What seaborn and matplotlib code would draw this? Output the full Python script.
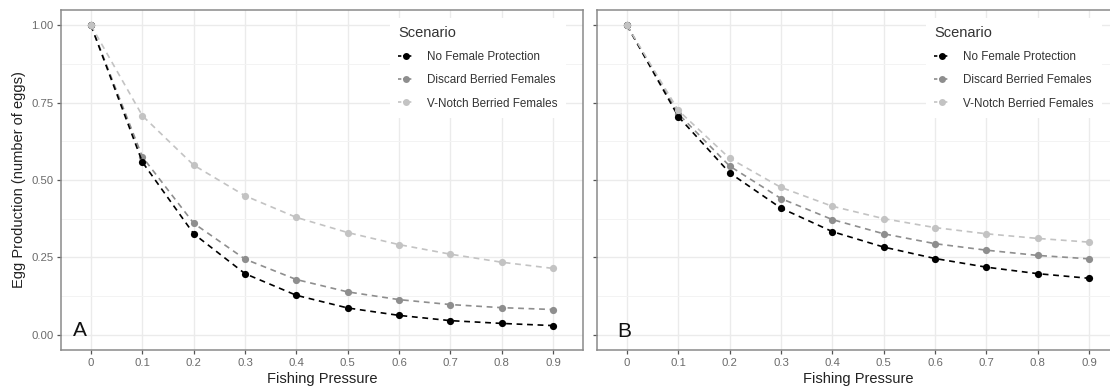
import matplotlib
matplotlib.use("Agg")
import matplotlib.pyplot as plt
import seaborn as sns
import pandas as pd
from matplotlib.lines import Line2D

# ---------------- data ----------------
pressure = [0.0, 0.1, 0.2, 0.3, 0.4, 0.5, 0.6, 0.7, 0.8, 0.9]
tick_labels = ["0", "0.1", "0.2", "0.3", "0.4", "0.5", "0.6", "0.7", "0.8", "0.9"]
scenarios = ["No Female Protection", "Discard Berried Females", "V-Notch Berried Females"]
panels = ["A", "B"]

a_no_protection = [1.00, 0.558, 0.326, 0.197, 0.127, 0.086, 0.062, 0.045, 0.036, 0.029]
a_discard       = [1.00, 0.575, 0.360, 0.244, 0.178, 0.138, 0.113, 0.097, 0.087, 0.081]
a_vnotch        = [1.00, 0.708, 0.548, 0.449, 0.379, 0.330, 0.291, 0.260, 0.234, 0.214]

b_no_protection = [1.00, 0.705, 0.523, 0.409, 0.333, 0.283, 0.246, 0.218, 0.197, 0.182]
b_discard       = [1.00, 0.714, 0.545, 0.440, 0.372, 0.326, 0.294, 0.273, 0.256, 0.245]
b_vnotch        = [1.00, 0.725, 0.570, 0.476, 0.415, 0.375, 0.346, 0.326, 0.311, 0.299]

panel_series = {
    "A": [a_no_protection, a_discard, a_vnotch],
    "B": [b_no_protection, b_discard, b_vnotch],
}

colors = {"No Female Protection": "#000000",
          "Discard Berried Females": "#8e8e8e",
          "V-Notch Berried Females": "#c3c3c3"}
zorders = {"No Female Protection": 4, "Discard Berried Females": 3,
           "V-Notch Berried Females": 5}

rows = []
for p in panels:
    for s, vals in zip(scenarios, panel_series[p]):
        for x, v in zip(pressure, vals):
            rows.append({"panel": p, "scenario": s, "pressure": x, "eggs": v})
df = pd.DataFrame(rows)

# ---------------- style ----------------
sns.set_theme(style="white")
plt.rcParams["font.family"] = ["Liberation Sans", "DejaVu Sans"]

W, H = 1110, 388
fig = plt.figure(figsize=(W / 100, H / 100), dpi=100)
axA = fig.add_axes([61 / W, 38 / H, 522 / W, 340 / H])
axB = fig.add_axes([597 / W, 38 / H, 522 / W, 340 / H])

label_pos = {"A": (-0.021, 0.013), "B": (-0.005, 0.010)}

for ax, p in zip([axA, axB], panels):
    sub = df[df["panel"] == p]
    for s in scenarios:
        d = sub[sub["scenario"] == s]
        sns.lineplot(data=d, x="pressure", y="eggs", ax=ax, color=colors[s],
                     linestyle=(0, (3.5, 2.8)), linewidth=1.2, marker="o",
                     markersize=5.2, markeredgewidth=0, zorder=zorders[s],
                     legend=False)
    ax.set_xlim(-0.0585, 0.9585)
    ax.set_ylim(-0.05, 1.05)
    ax.set_xticks(pressure)
    ax.set_xticklabels(tick_labels)
    ax.set_yticks([0, 0.25, 0.5, 0.75, 1.0])
    ax.set_yticks([0.125, 0.375, 0.625, 0.875], minor=True)
    ax.grid(which="major", color="#EBEBEB", linewidth=1.0)
    ax.grid(which="minor", axis="y", color="#F3F3F3", linewidth=0.7)
    ax.set_axisbelow(True)
    for sp in ax.spines.values():
        sp.set_color("#8a8a8a")
        sp.set_linewidth(1.1)
    ax.tick_params(which="major", direction="out", length=3, width=0.9,
                   color="#555555", labelsize=8.2, labelcolor="#6a6a6a",
                   pad=2.5, bottom=True, left=True)
    ax.tick_params(which="minor", length=0)
    ax.set_xlabel("Fishing Pressure", fontsize=10.5, color="#222222", labelpad=3)
    lx, ly = label_pos[p]
    ax.text(lx, ly, p, fontsize=15, color="#111111", ha="center", va="center",
            zorder=6)

    handles = [Line2D([0], [0], color=colors[s], linestyle=(0, (2, 1)),
                      linewidth=1.2, marker="o", markersize=5,
                      markeredgewidth=0) for s in scenarios]
    leg = ax.legend(handles, scenarios, title="Scenario", loc="upper left",
                    bbox_to_anchor=(0.630, 0.976), frameon=True,
                    facecolor="white", edgecolor="none", fancybox=False,
                    framealpha=1.0, fontsize=8.4, title_fontsize=10.5,
                    handlelength=1.3, handletextpad=1.2, labelspacing=0.95,
                    borderpad=0.7, borderaxespad=0)
    leg._legend_box.align = "left"
    for t in leg.get_texts():
        t.set_color("#333333")
    leg.get_title().set_color("#333333")
    leg.set_zorder(7)

axA.set_ylabel("Egg Production (number of eggs)", fontsize=10.5,
               color="#222222", labelpad=4)
axB.set_ylabel("")
axB.set_yticklabels([])

fig.savefig("out.png", dpi=100)
